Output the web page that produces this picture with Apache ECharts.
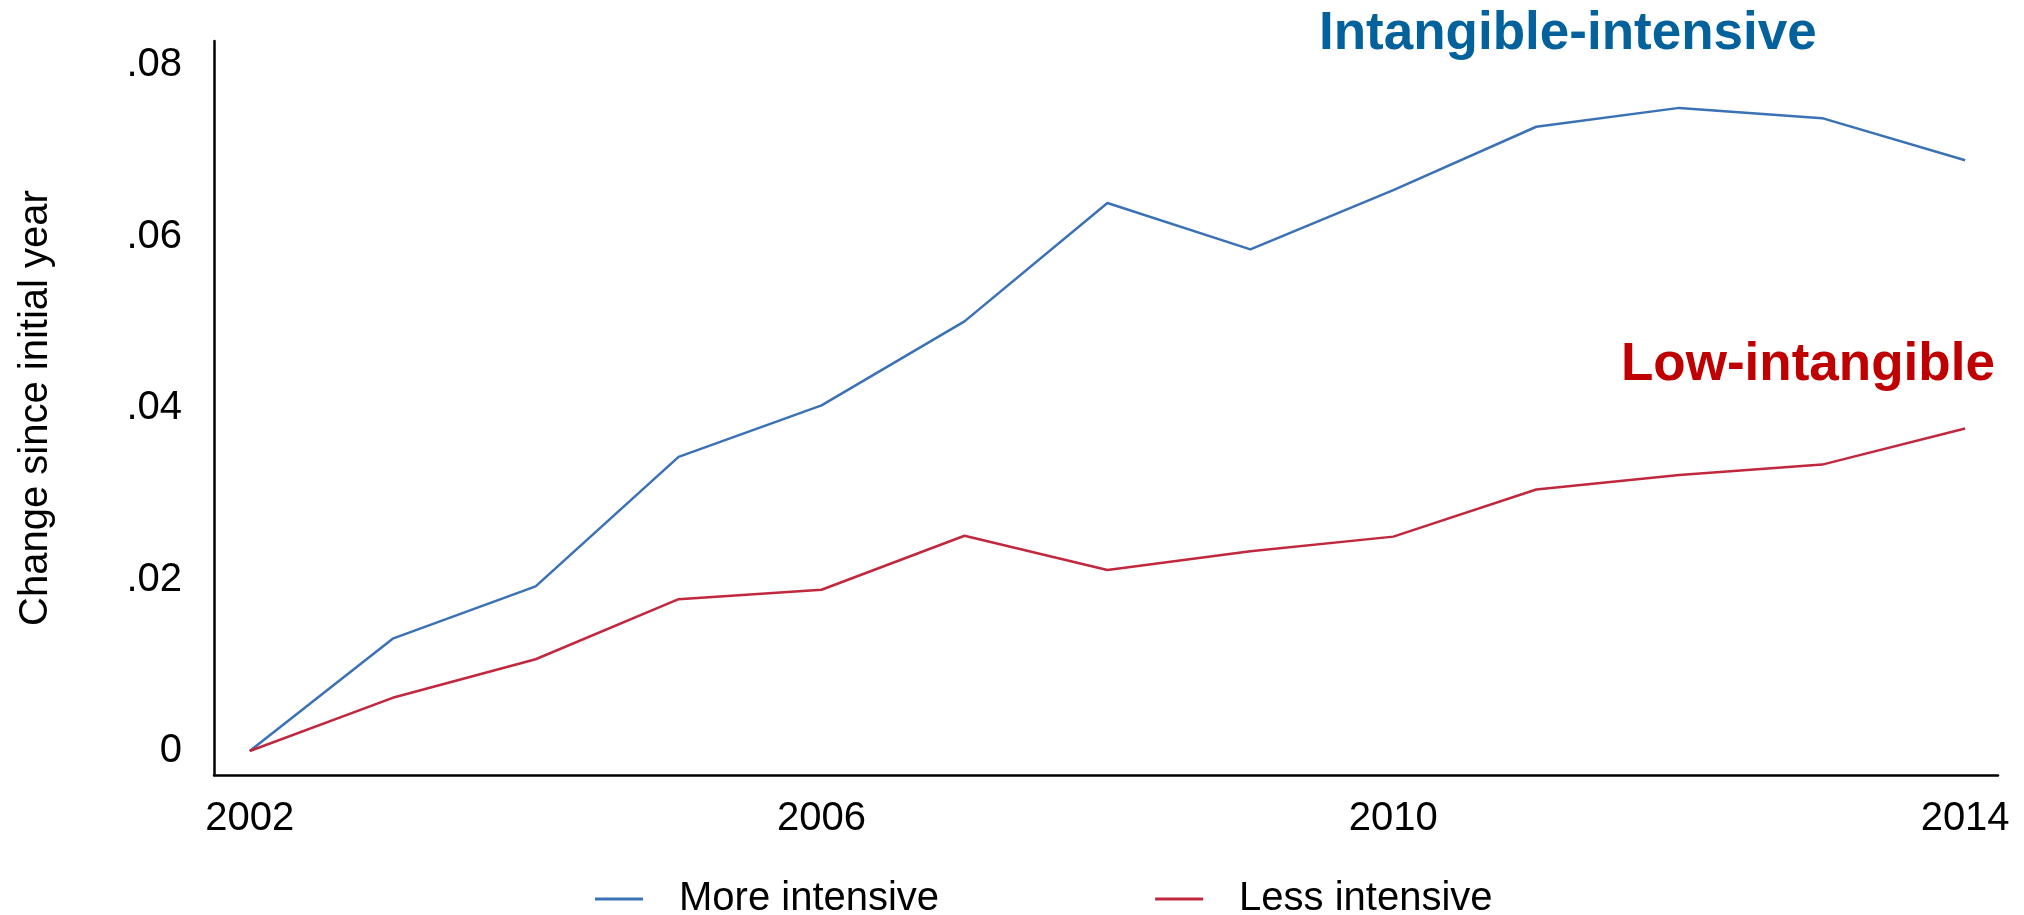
<!DOCTYPE html>
<html>
<head>
<meta charset="utf-8">
<script src="https://cdn.jsdelivr.net/npm/echarts@6/dist/echarts.min.js"></script>
<style>
html,body{margin:0;padding:0;background:#fff;}
#chart{width:2024px;height:915px;}
</style>
</head>
<body>
<div id="chart"></div>
<script>
const years = [2002, 2003, 2004, 2005, 2006, 2007, 2008, 2009, 2010, 2011, 2012, 2013, 2014];
const moreIntensive = [0, 0.0131, 0.0192, 0.0343, 0.0403, 0.0501, 0.0639, 0.0585, 0.0654, 0.0728, 0.0750, 0.0738, 0.0689];
const lessIntensive = [0, 0.0062, 0.0107, 0.0177, 0.0188, 0.0251, 0.0211, 0.0233, 0.0250, 0.0305, 0.0322, 0.0334, 0.0376];
const xTickLabels = [2002, 2006, 2010, 2014];
const yTickValues = [0, 0.02, 0.04, 0.06, 0.08];
const yTickLabels = ['0', '.02', '.04', '.06', '.08'];
const seriesNames = ['More intensive', 'Less intensive'];
const annotations = ['Intangible-intensive', 'Low-intangible'];

const FONT = '"Liberation Sans", Arial, sans-serif';
const chart = echarts.init(document.getElementById('chart'), null, {renderer: 'canvas'});

const option = {
  animation: false,
  backgroundColor: '#ffffff',
  grid: {left: 214, right: 26, top: 41, bottom: 140, containLabel: false},
  legend: {
    data: seriesNames,
    left: 590,
    top: 874,
    itemWidth: 48,
    itemHeight: 14,
    itemGap: 216,
    textStyle: {fontFamily: FONT, fontSize: 40, color: '#000', padding: [0, 0, 0, 31]},
    icon: 'path://M0,6 L48,6 L48,9 L0,9 Z'
  },
  xAxis: {
    type: 'value',
    min: 2001.75,
    max: 2014.23,
    axisLine: {show: true, onZero: false, lineStyle: {color: '#000', width: 2.5}},
    axisTick: {show: false},
    splitLine: {show: false},
    axisLabel: {
      customValues: xTickLabels,
      fontFamily: FONT, fontSize: 40, color: '#000', margin: 24,
      formatter: v => String(v)
    }
  },
  yAxis: {
    type: 'value',
    min: -0.0028,
    max: 0.0828,
    name: 'Change since initial year',
    nameLocation: 'middle',
    nameRotate: 90,
    nameGap: 158,
    nameTextStyle: {fontFamily: FONT, fontSize: 40, color: '#000'},
    axisLine: {show: true, onZero: false, lineStyle: {color: '#000', width: 2.5}},
    axisTick: {show: false},
    splitLine: {show: false},
    axisLabel: {
      customValues: yTickValues,
      fontFamily: FONT, fontSize: 40, color: '#000', margin: 32,
      formatter: v => {
        const i = yTickValues.findIndex(t => Math.abs(t - v) < 1e-9);
        return i >= 0 ? yTickLabels[i] : '';
      }
    }
  },
  series: [
    {
      name: seriesNames[0],
      type: 'line',
      data: years.map((y, i) => [y, moreIntensive[i]]),
      showSymbol: false,
      lineStyle: {color: '#3a72b5', width: 2.5},
      itemStyle: {color: '#3a72b5'}
    },
    {
      name: seriesNames[1],
      type: 'line',
      data: years.map((y, i) => [y, lessIntensive[i]]),
      showSymbol: false,
      lineStyle: {color: '#c1283d', width: 2.5},
      itemStyle: {color: '#c1283d'}
    }
  ],
  graphic: [
    {
      type: 'text', left: 1319, top: 8,
      style: {text: annotations[0], fontFamily: FONT, fontWeight: 'bold', fontSize: 53, fill: '#03619c'}
    },
    {
      type: 'text', left: 1621, top: 339,
      style: {text: annotations[1], fontFamily: FONT, fontWeight: 'bold', fontSize: 53, fill: '#c00000'}
    }
  ]
};
chart.setOption(option);
</script>
</body>
</html>
